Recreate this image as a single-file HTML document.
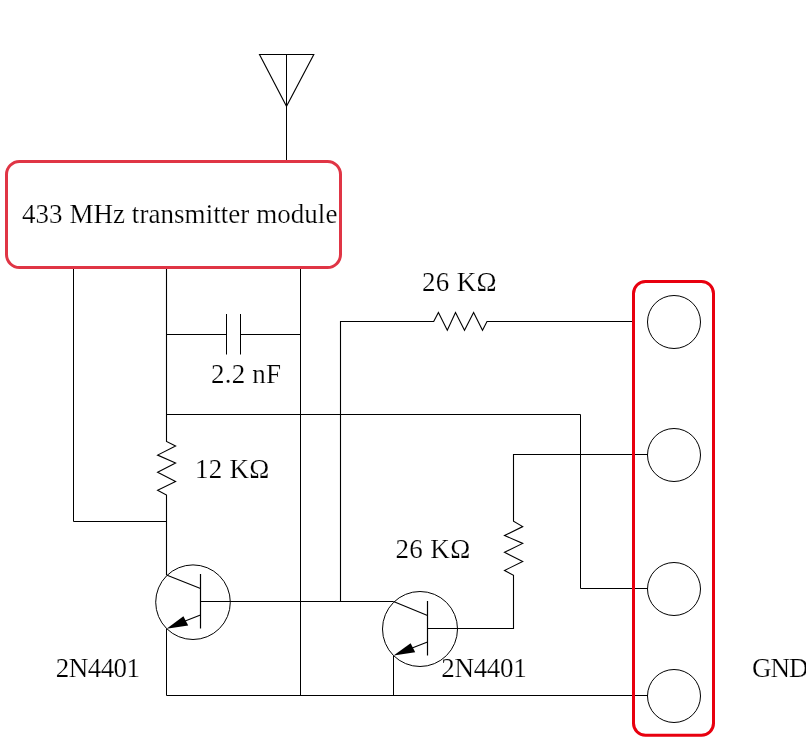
<!DOCTYPE html>
<html><head><meta charset="utf-8">
<style>
html,body{margin:0;padding:0;background:#fff;}
svg{display:block;will-change:transform;}
text{font-family:"Liberation Serif",serif;font-size:27px;fill:#000;stroke:#fff;stroke-width:0.2px;}
</style></head><body>
<svg width="806" height="747" viewBox="0 0 806 747" xmlns="http://www.w3.org/2000/svg">
<g fill="none" stroke="#000" stroke-width="1">
<!-- antenna -->
<path d="M259.5 54.5 H313.8 L286.5 106.3 Z" stroke-width="1.1"/>
<path d="M286.5 54.5 V161"/>
<!-- module wires -->
<path d="M73.5 267 V521.5 H166.5"/>
<path d="M166.5 267 V441.5 L175.6 446.1 L157.6 455.1 L175.6 463.1 L157.6 472.2 L175.6 481.4 L157.6 490.2 L166.5 495 V575" stroke-width="1.1"/>
<path d="M300.5 267 V695.5"/>
<!-- capacitor -->
<path d="M166.5 334.5 H226.5 M226.5 314 V354.5 M240.5 314 V354.5 M240.5 334.5 H300.5"/>
<!-- horizontal y=414 -->
<path d="M166.5 414.5 H580.5 V588.5 H647.5"/>
<!-- resistor 2 horizontal -->
<path d="M340.5 601.5 V321.5 H433.7 L438.4 312.4 L447.3 330.3 L455.5 312.4 L464.5 330.3 L473.6 312.4 L482.5 330.3 L487 321.5 H633.5" stroke-width="1.1"/>
<!-- base1 to collector2 -->
<path d="M200.5 601.5 H393.5"/>
<!-- transistor 2 base to resistor 3 to circle 2 -->
<path d="M427.5 628.5 H513.5 V575.3 L504.5 570.5 L522.7 561.4 L504.5 552.3 L522.7 543.4 L504.5 535.5 L522.7 526.6 L513.5 521.2 V454.5 H647.5" stroke-width="1.1"/>
<!-- bottom ground -->
<path d="M166.5 628.5 V695.5 H647.5 M393.5 655.5 V695.5"/>
</g>
<!-- transistor 1 -->
<g fill="none" stroke="#000">
<circle cx="193" cy="602.2" r="37.3" stroke-width="1"/>
<path d="M200.5 574 V628.5" stroke-width="1.2"/>
<path d="M166.5 575 L200.5 588.5 M200.5 615 L180 623" stroke-width="1.1"/>
</g>
<path d="M166.6 628.7 L183.4 616.3 L188.2 625.6 Z" fill="#000"/>
<!-- transistor 2 -->
<g fill="none" stroke="#000">
<circle cx="420" cy="629" r="37.5" stroke-width="1"/>
<path d="M427.5 601 V655.5" stroke-width="1.2"/>
<path d="M393.5 601.5 L427.5 615.5 M427.5 642 L407 650" stroke-width="1.1"/>
</g>
<path d="M393.6 655.6 L410.6 643.2 L415.2 652.3 Z" fill="#000"/>
<!-- connector -->
<rect x="633.5" y="281.5" width="80" height="453.8" rx="12" ry="12" fill="none" stroke="#e8000f" stroke-width="3"/>
<g fill="none" stroke="#000" stroke-width="1">
<circle cx="674" cy="322" r="26.5"/>
<circle cx="674" cy="455" r="26.5"/>
<circle cx="674" cy="589" r="26.5"/>
<circle cx="674" cy="696" r="26.5"/>
</g>
<!-- module box -->
<rect x="6.5" y="161.5" width="334" height="106" rx="13" ry="13" fill="none" stroke="#e03545" stroke-width="3"/>
<!-- labels -->
<text x="22" y="222.8" textLength="315.4" lengthAdjust="spacing">433 MHz transmitter module</text>
<text x="211" y="382.8" textLength="70" lengthAdjust="spacing">2.2 nF</text>
<text x="195" y="478" textLength="74.3" lengthAdjust="spacing">12 KΩ</text>
<text x="422" y="291" textLength="74.5" lengthAdjust="spacing">26 KΩ</text>
<text x="395.4" y="557.7" textLength="74.9" lengthAdjust="spacing">26 KΩ</text>
<text x="55.7" y="676.9" textLength="84.4" lengthAdjust="spacing">2N4401</text>
<text x="441.3" y="676.5" textLength="85.4" lengthAdjust="spacing">2N4401</text>
<text x="752" y="676.8" textLength="56.5" lengthAdjust="spacing">GND</text>
</svg>
</body></html>
